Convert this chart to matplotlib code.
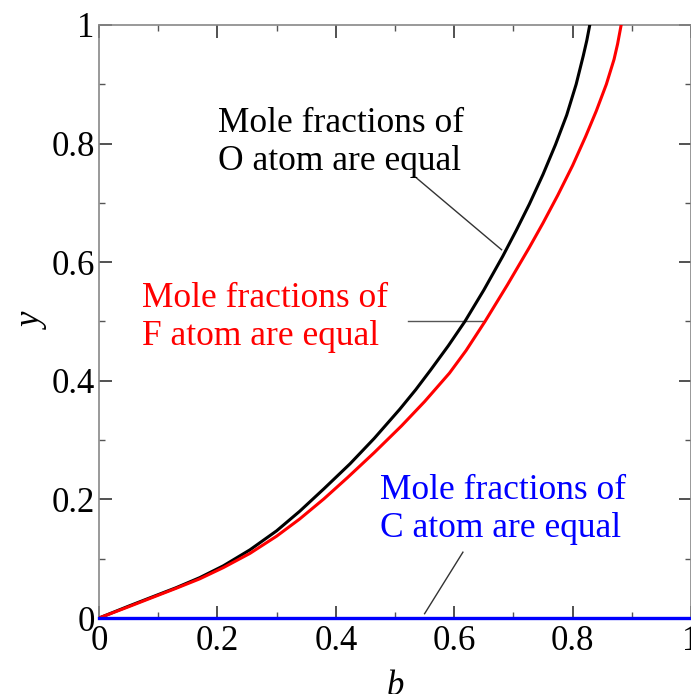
import matplotlib.pyplot as plt
from matplotlib.ticker import MultipleLocator, FixedLocator

plt.rcParams["font.family"] = ["Liberation Serif", "DejaVu Serif"]

# values: b (x) and y for each curve
# O atom (black)
o_b = [0, 0.05, 0.086, 0.13, 0.17, 0.21, 0.255, 0.30, 0.339, 0.38, 0.424, 0.465, 0.508,
       0.535, 0.56, 0.59, 0.618, 0.65, 0.682, 0.705, 0.727, 0.75, 0.771, 0.79, 0.806,
       0.818, 0.824, 0.829]
o_y = [0, 0.020, 0.034, 0.051, 0.068, 0.088, 0.115, 0.147, 0.180, 0.218, 0.260, 0.303, 0.352,
       0.385, 0.418, 0.459, 0.500, 0.553, 0.610, 0.654, 0.698, 0.748, 0.798, 0.848, 0.900,
       0.948, 0.974, 1.0]

# F atom (red)
f_b = [0, 0.05, 0.086, 0.13, 0.17, 0.21, 0.255, 0.30, 0.339, 0.38, 0.42, 0.465, 0.511,
       0.55, 0.592, 0.62, 0.652, 0.69, 0.727, 0.75, 0.775, 0.80, 0.822, 0.84, 0.857,
       0.87, 0.876, 0.882]
f_y = [0, 0.019, 0.033, 0.050, 0.066, 0.085, 0.109, 0.138, 0.167, 0.201, 0.237, 0.279, 0.324,
       0.365, 0.413, 0.451, 0.500, 0.562, 0.625, 0.666, 0.713, 0.763, 0.812, 0.855, 0.900,
       0.942, 0.968, 1.0]

# C atom (blue)
c_b = [0, 1]
c_y = [0, 0]

ticks = [0, 0.2, 0.4, 0.6, 0.8, 1.0]
tick_labels = ["0", "0.2", "0.4", "0.6", "0.8", "1"]

fig = plt.figure(figsize=(6.91, 6.94), dpi=100)
ax = fig.add_axes([0.1433, 0.1095, 0.8567, 0.8545])

ax.plot(o_b, o_y, color="black", lw=2.2, zorder=3, solid_joinstyle="round")
ax.plot(f_b, f_y, color="red", lw=2.2, zorder=3, solid_joinstyle="round")
ax.plot(c_b, c_y, color="#0000ff", lw=2.4, zorder=5, clip_on=False)

ax.set_xlim(0, 1)
ax.set_ylim(0, 1)

ax.xaxis.set_major_locator(FixedLocator(ticks))
ax.yaxis.set_major_locator(FixedLocator(ticks))
ax.set_xticklabels(tick_labels)
ax.set_yticklabels(tick_labels)
ax.xaxis.set_minor_locator(MultipleLocator(0.1))
ax.yaxis.set_minor_locator(MultipleLocator(0.1))

ax.tick_params(which="both", direction="in", top=True, right=True, labelsize=25)
ax.tick_params(axis="y", pad=3)
ax.tick_params(axis="x", pad=5)
ax.tick_params(which="major", length=9, width=1.1, color="#222222")
ax.tick_params(which="minor", length=4.5, width=1.0, color="#555555")
for s in ax.spines.values():
    s.set_color("#888888")
    s.set_linewidth(1.2)

ax.set_xlabel("b", fontsize=25, fontstyle="italic", labelpad=9)
ax.set_ylabel("y", fontsize=25, fontstyle="italic", labelpad=1)

# annotations
ax.text(0.2008, 0.862, "Mole fractions of\nO atom are equal", color="black",
        fontsize=25.5, ha="left", va="top", linespacing=1.2)
ax.plot([0.5363, 0.680], [0.742, 0.621], color="#333333", lw=1.0)

ax.text(0.0726, 0.566, "Mole fractions of\nF atom are equal", color="red",
        fontsize=25.5, ha="left", va="top", linespacing=1.2)
ax.plot([0.5215, 0.65], [0.5005, 0.5005], color="#555555", lw=1.0)

ax.text(0.4743, 0.243, "Mole fractions of\nC atom are equal", color="#0000ff",
        fontsize=25.5, ha="left", va="top", linespacing=1.2)
ax.plot([0.550, 0.6147], [0.0073, 0.111], color="#333333", lw=1.0)

fig.savefig("out.png", dpi=100)
